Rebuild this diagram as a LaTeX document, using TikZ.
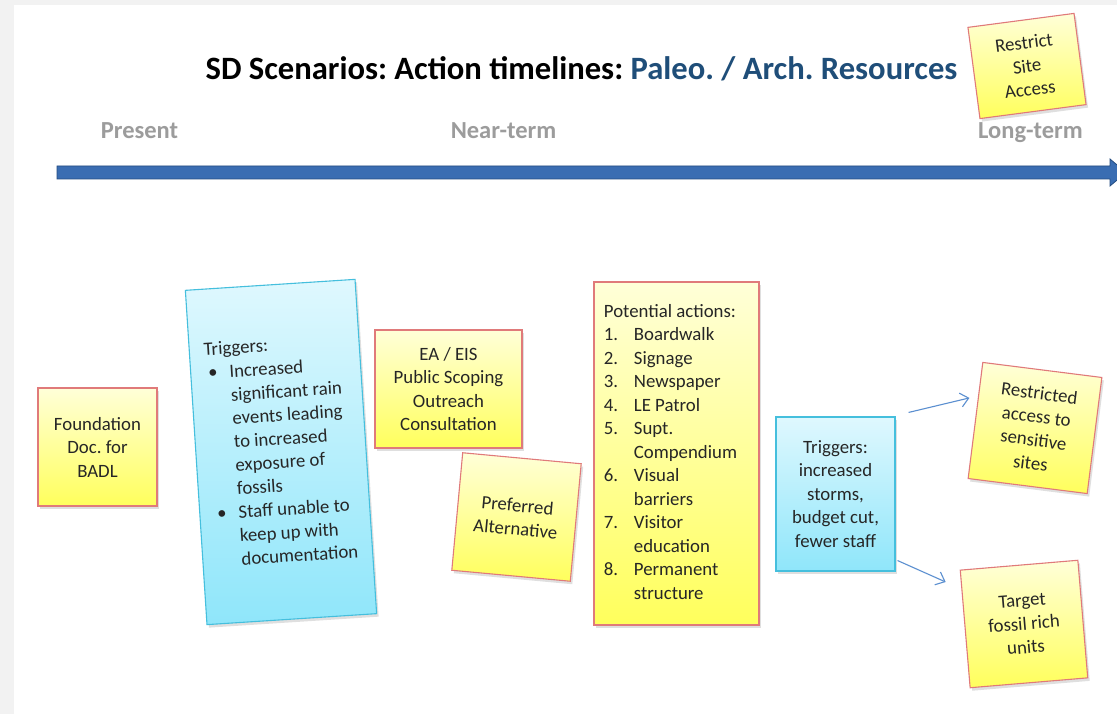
\documentclass[tikz,border=0pt]{standalone}
\usepackage{fontspec}
\setmainfont{Carlito}
\frenchspacing
\usetikzlibrary{shadows,arrows.meta,calc}
\definecolor{bggray}{HTML}{F2F2F2}
\definecolor{titleblue}{HTML}{1F4E79}
\definecolor{labelgray}{HTML}{9C9C9C}
\definecolor{lineblue}{HTML}{3A6DB2}
\definecolor{lineedge}{HTML}{244C80}
\definecolor{stickyedge}{HTML}{E07A7A}
\definecolor{stickytop}{HTML}{FFFFD8}
\definecolor{stickybot}{HTML}{FFFF5C}
\definecolor{cyanedge}{HTML}{45BFDD}
\definecolor{cyantop}{HTML}{DFF8FE}
\definecolor{cyanbot}{HTML}{8FE6FA}
\definecolor{arrowblue}{HTML}{5B8FD0}
\definecolor{ink}{HTML}{262626}
\tikzset{
  note/.style={line width=1.1pt, inner sep=0pt, align=center,
    font=\fontsize{18.8}{23.5}\selectfont, text=ink,
    drop shadow={opacity=0.25, shadow xshift=2pt, shadow yshift=-3pt}},
  sticky/.style={note, draw=stickyedge, top color=stickytop, bottom color=stickybot},
  cyanbox/.style={note, draw=cyanedge, top color=cyantop, bottom color=cyanbot},
  phase/.style={font=\bfseries\fontsize{24.5}{28}\selectfont, text=labelgray, anchor=base},
  link/.style={draw=arrowblue, line width=1.1pt, -{Straight Barb[length=8pt,width=14pt]}}
}
\begin{document}
\begin{tikzpicture}[x=1pt,y=-1pt]
\useasboundingbox (0,0) rectangle (1117,714);
\clip (0,0) rectangle (1117,714);
\fill[bggray] (0,0) rectangle (1117,714);
\fill[white] (14,5) rectangle (1117,714);
% title
\node[anchor=base, font=\bfseries\fontsize{32.6}{38}\selectfont] (title) at (581.5,80)
  {SD Scenarios: Action timelines: \textcolor{titleblue}{Paleo. / Arch. Resources}};
% phases
\node[phase] (present) at (139.5,139) {Present};
\node[phase] (near) at (503.5,139) {Near-term};
\node[phase] (long) at (1030.5,139) {Long-term};
% timeline
\fill[lineblue, draw=lineedge, line width=0.8pt] (57,166) -- (1110,166) -- (1110,159) -- (1126,172.5) -- (1110,186) -- (1110,179) -- (57,179) -- cycle;
% notes
\node[sticky, minimum width=107, minimum height=92, rotate=7.5] (restrict) at (1027,66)
  {Restrict\\Site\\Access};
\node[sticky, minimum width=119, minimum height=118] (found) at (97.5,447)
  {Foundation\\Doc. for\\BADL};
\node[cyanbox, minimum width=170, minimum height=335, rotate=3.7] (trig1) at (281,452)
  {\begin{tabular}{@{\hspace{3pt}}l@{\hspace{12pt}}l@{}}
   \multicolumn{2}{@{}l@{}}{Triggers:}\\
   \textbullet & Increased\\
   & significant rain\\
   & events leading\\
   & to increased\\
   & exposure of\\
   & fossils\\
   \textbullet & Staff unable to\\
   & keep up with\\
   & documentation
   \end{tabular}};
\node[sticky, minimum width=147, minimum height=118] (eais) at (448.5,389)
  {EA / EIS\\Public Scoping\\Outreach\\Consultation};
\node[sticky, minimum width=119, minimum height=118, rotate=-5.3] (pref) at (516.5,517)
  {Preferred\\Alternative};
\node[sticky, minimum width=165, minimum height=343] (actions) at (676.5,453.5)
  {\begin{tabular}{@{}p{30pt}@{}l@{}}
   \multicolumn{2}{@{}l@{}}{Potential actions:}\\
   1. & Boardwalk\\
   2. & Signage\\
   3. & Newspaper\\
   4. & LE Patrol\\
   5. & Supt.\\
   & Compendium\\
   6. & Visual\\
   & barriers\\
   7. & Visitor\\
   & education\\
   8. & Permanent\\
   & structure
   \end{tabular}\hspace{12pt}};
\node[cyanbox, minimum width=119, minimum height=154] (trig2) at (835.5,494)
  {Triggers:\\increased\\storms,\\budget cut,\\fewer staff};
\node[sticky, minimum width=120, minimum height=117, rotate=-7.2] (restr) at (1035,428)
  {Restricted\\access to\\sensitive\\sites};
\node[sticky, minimum width=118, minimum height=118, rotate=4.8] (target) at (1024,624)
  {Target\\fossil rich\\units};
% connectors
\draw[link] ([shift={(13,-4)}]trig2.north east) -- ([shift={(-5.5,-22.5)}]restr.west);
\draw[link] ([shift={(2,-11)}]trig2.south east) -- ([shift={(-19,-47)}]target.west);
\end{tikzpicture}
\end{document}
